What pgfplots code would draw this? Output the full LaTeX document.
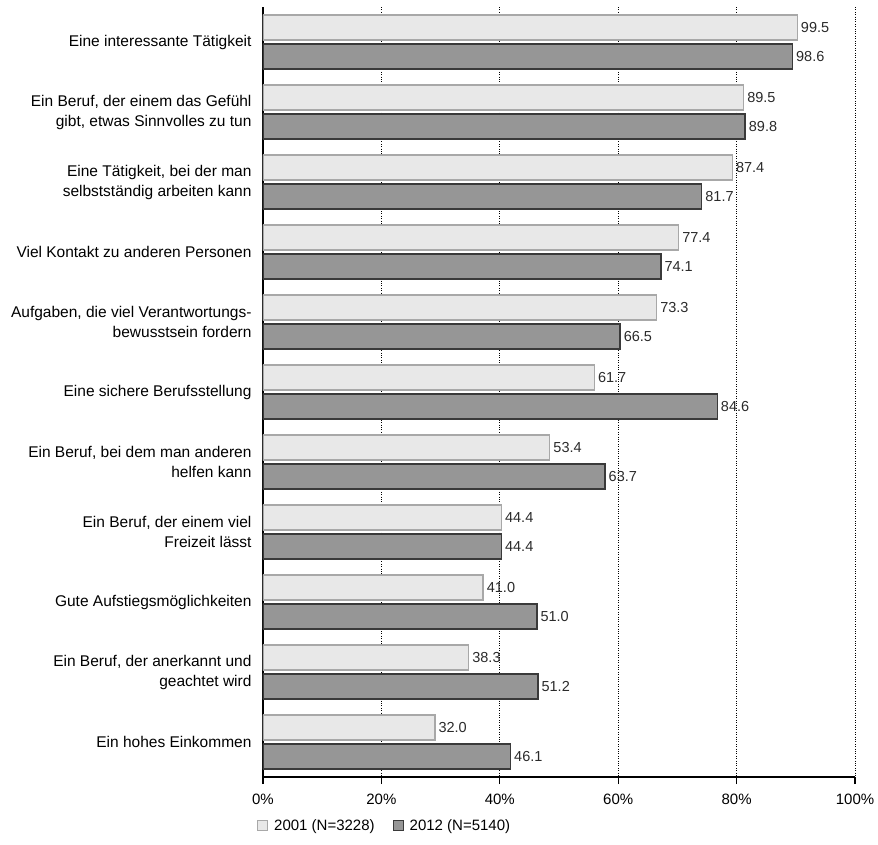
\documentclass[border=0pt]{standalone}
\usepackage{pgfplots}
\pgfplotsset{compat=1.18}
\usepackage{fontspec}
\setmainfont{Liberation Sans}
\definecolor{barA}{HTML}{E8E8E8}
\definecolor{edgeA}{HTML}{A8A8A8}
\definecolor{barB}{HTML}{969696}
\definecolor{edgeB}{HTML}{3A3A3A}
\definecolor{valtext}{HTML}{2A2A2A}

\begin{document}
\begin{tikzpicture}
\begin{axis}[
  scale only axis,
  width=592pt, height=770pt,
  xbar, bar width=25pt,
  y dir=reverse,
  xmin=0, xmax=110.25,
  ymin=-0.5, ymax=10.5,
  axis x line*=bottom, axis y line*=left,
  axis line style={line width=1.1pt, black},
  tick align=outside,
  tick style={black, line width=1.1pt},
  xtick={0,22.05,44.1,66.15,88.2,110.25},
  xticklabels={0\%,20\%,40\%,60\%,80\%,100\%},
  xticklabel style={font=\fontsize{15}{17}\selectfont, yshift=-6pt},
  major tick length=7pt,
  xmajorgrids,
  grid style={black, dotted, line width=0.7pt},
  ytick={0,1,...,10},
  ytick style={draw=none},
  minor ytick={-0.5,0.5,...,10.5},
  minor tick length=7pt,
  minor tick style={black, line width=1.1pt},
  yticklabel style={font=\fontsize{15.5}{20}\selectfont, align=right, xshift=-1pt},
  yticklabels={
    {Eine interessante Tätigkeit},
    {Ein Beruf, der einem das Gefühl\\gibt, etwas Sinnvolles zu tun},
    {Eine Tätigkeit, bei der man\\selbstständig arbeiten kann},
    {Viel Kontakt zu anderen Personen},
    {Aufgaben, die viel Verantwortungs-\\bewusstsein fordern},
    {Eine sichere Berufsstellung},
    {Ein Beruf, bei dem man anderen\\helfen kann},
    {Ein Beruf, der einem viel\\Freizeit lässt},
    {Gute Aufstiegsmöglichkeiten},
    {Ein Beruf, der anerkannt und\\geachtet wird},
    {Ein hohes Einkommen}},
  point meta=x,
  nodes near coords={\pgfmathprintnumber[fixed,zerofill,precision=1,assume math mode=true]{\pgfplotspointmeta}},
  nodes near coords style={font=\fontsize{14.5}{16}\selectfont, text=valtext, anchor=west, inner sep=3pt},
  legend columns=2,
  legend style={at={(0,0)}, anchor=north west, xshift=-9pt, yshift=-38pt,
    draw=none, fill=none, font=\fontsize{15}{17}\selectfont,
    /tikz/every odd column/.append style={column sep=4pt},
    /tikz/every even column/.append style={column sep=16pt}},
  legend image code/.code={\draw[#1, line width=1pt] (0pt,-5pt) rectangle (10pt,5pt);},
]
\addplot[fill=barA, draw=edgeA, line width=1.4pt, bar shift=14.5pt] coordinates {
  (99.5,0) (89.5,1) (87.4,2) (77.4,3) (73.3,4) (61.7,5)
  (53.4,6) (44.4,7) (41.0,8) (38.3,9) (32.0,10)
};
\addlegendentry{2001 (N=3228)}
\addplot[fill=barB, draw=edgeB, line width=1.4pt, bar shift=-14.5pt] coordinates {
  (98.6,0) (89.8,1) (81.7,2) (74.1,3) (66.5,4) (84.6,5)
  (63.7,6) (44.4,7) (51.0,8) (51.2,9) (46.1,10)
};
\addlegendentry{2012 (N=5140)}
\coordinate (bl) at (axis description cs:0,0);
\end{axis}
\pgfresetboundingbox
\path ([shift={(-263pt,-67pt)}]bl) rectangle ([shift={(615pt,777pt)}]bl);
\end{tikzpicture}
\end{document}
